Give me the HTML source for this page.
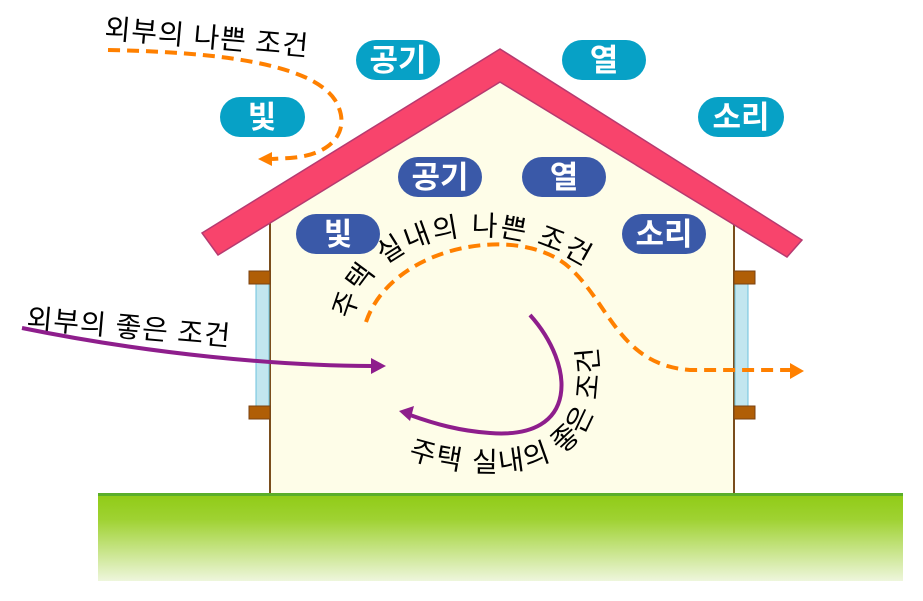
<!DOCTYPE html>
<html><head><meta charset="utf-8"><style>
html,body{margin:0;padding:0;background:#fff;}
svg{display:block;}
text{font-family:"Liberation Sans","Noto Sans CJK KR",sans-serif;}
</style></head><body>
<svg width="923" height="601" viewBox="0 0 923 601" xmlns="http://www.w3.org/2000/svg">
<defs>
<linearGradient id="g" x1="0" y1="0" x2="0" y2="1">
<stop offset="0" stop-color="#8fcb14"/><stop offset="0.3" stop-color="#9fd232"/><stop offset="1" stop-color="#eef6dc"/>
</linearGradient>
<path id="tp1" d="M352,320 C 368,232 500,208 590,270"/>
<path id="tp2" d="M408,458 C 480,482 565,478 590,420 C 603,388 600,350 588,310"/>
</defs>
<rect x="98" y="493" width="805" height="88" fill="url(#g)"/>
<rect x="98" y="493" width="805" height="3" fill="#5aae2a"/>
<polygon points="270,222 500,80 734,222 734,493 270,493" fill="#fefde8"/>
<line x1="270" y1="222" x2="270" y2="493" stroke="#7a4d1c" stroke-width="2"/>
<line x1="734" y1="222" x2="734" y2="493" stroke="#7a4d1c" stroke-width="2"/>
<rect x="256" y="284" width="13" height="124" fill="#c2e6ef" stroke="#6cc2dc" stroke-width="1"/>
<rect x="249" y="271" width="21" height="13" fill="#b05e06" stroke="#7a4210" stroke-width="1"/>
<rect x="249" y="406" width="21" height="13" fill="#b05e06" stroke="#7a4210" stroke-width="1"/>
<rect x="735" y="284" width="13" height="124" fill="#c2e6ef" stroke="#6cc2dc" stroke-width="1"/>
<rect x="734" y="271" width="21" height="13" fill="#b05e06" stroke="#7a4210" stroke-width="1"/>
<rect x="734" y="406" width="21" height="13" fill="#b05e06" stroke="#7a4210" stroke-width="1"/>
<polygon points="202,233 500,49 802,240 787,257 500,82 218,255" fill="#f8446c" stroke="#b63a70" stroke-width="1.5"/>
<g fill="#07a1c6">
<rect x="356" y="40" width="84" height="40" rx="20"/>
<rect x="562" y="40" width="84" height="40" rx="20"/>
<rect x="220" y="97" width="85" height="40" rx="20"/>
<rect x="698" y="97" width="86" height="40" rx="20"/>
</g>
<g fill="#3a59a8">
<rect x="398" y="157" width="84" height="40" rx="20"/>
<rect x="522" y="157" width="84" height="40" rx="20"/>
<rect x="296" y="214" width="84" height="40" rx="20"/>
<rect x="622" y="214" width="84" height="40" rx="20"/>
</g>
<g fill="#fff" font-size="31" text-anchor="middle" font-weight="bold">
<text x="398" y="71">공기</text>
<text x="604" y="71">열</text>
<text x="262" y="128">빛</text>
<text x="741" y="128">소리</text>
<text x="440" y="188">공기</text>
<text x="564" y="188">열</text>
<text x="338" y="245">빛</text>
<text x="664" y="245">소리</text>
</g>
<text x="104" y="38" font-size="28" letter-spacing="1" transform="rotate(5 104 38)">외부의 나쁜 조건</text>
<path d="M108,50 C 210,52 310,62 335,100 C 352,128 335,155 290,158 L 272,159" fill="none" stroke="#ff8000" stroke-width="4" stroke-dasharray="12,7"/>
<polygon points="258,159 272,152 272,166" fill="#ff8000"/>
<path d="M366,322 C 392,245 520,222 570,268 C 610,305 620,365 690,370 L 790,370" fill="none" stroke="#ff8000" stroke-width="4" stroke-dasharray="12,7"/>
<polygon points="804,371 790,363 790,379" fill="#ff8000"/>
<text font-size="28" letter-spacing="2"><textPath href="#tp1">주택 실내의 나쁜 조건</textPath></text>
<text x="26" y="328" font-size="28" letter-spacing="1" transform="rotate(5 26 328)">외부의 좋은 조건</text>
<path d="M22,328 C 150,354 280,366 372,366" fill="none" stroke="#8e1e8c" stroke-width="4"/>
<polygon points="386,366 371,358 371,374" fill="#8e1e8c"/>
<path d="M530,315 C 575,365 580,440 490,433 C 460,431 435,424 410,415" fill="none" stroke="#8e1e8c" stroke-width="4"/>
<polygon points="399,411 414,406 410,421" fill="#8e1e8c"/>
<text font-size="28" letter-spacing="2"><textPath href="#tp2">주택 실내의 좋은 조건</textPath></text>
</svg>
</body></html>
